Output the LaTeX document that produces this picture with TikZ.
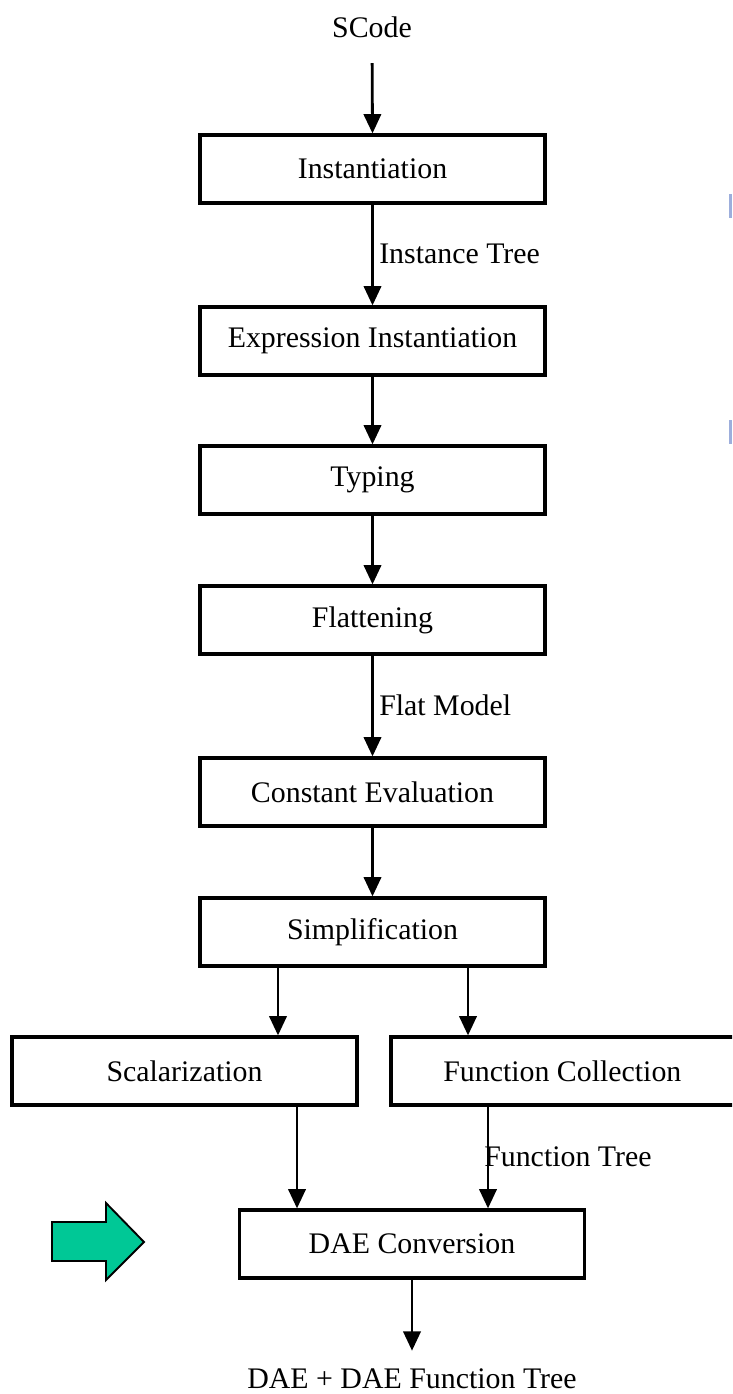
\documentclass[tikz,border=0pt]{standalone}
\usepackage{fontspec}
\setmainfont{Liberation Serif}
\usetikzlibrary{arrows.meta,calc}

\definecolor{stagegreen}{HTML}{00C896}
\definecolor{markblue}{HTML}{9DAEDC}

\tikzset{
  stage/.style={draw, line width=2.4pt, fill=white, minimum width=258.75pt,
                minimum height=51pt, inner sep=0pt, font=\fontsize{22.4}{26}\selectfont},
  plain/.style={inner sep=0pt, font=\fontsize{22.4}{26}\selectfont},
  flowlabel/.style={plain, anchor=west},
  flow/.style={line width=2.1pt, -{Triangle[length=14.5pt,width=13pt]}},
}

\begin{document}
\begin{tikzpicture}[x=0.75pt,y=-0.75pt]
  \useasboundingbox (0,0) rectangle (732,1394);
  \clip (0,0) rectangle (732,1394);

  % pipeline stages
  \node[plain] (scode) at (372,27) {SCode};
  \node[stage] (inst) at (372.5,169) {Instantiation};
  \node[stage] (expr) at (372.5,341) {Expression Instantiation};
  \node[stage] (typing) at (372.5,480) {Typing};
  \node[stage] (flat) at (372.5,620) {Flattening};
  \node[stage] (const) at (372.5,792) {Constant Evaluation};
  \node[stage] (simp) at (372.5,932) {Simplification};
  \node[stage] (scal) at (184.5,1071) {Scalarization};
  \node[stage, minimum width=258pt] (func) at (563,1071) {\hspace*{-1pt}Function Collection};
  \node[stage] (dae) at (412,1244) {DAE Conversion};
  \node[plain] (out) at (412,1379) {DAE + DAE Function Tree};

  % edge labels
  \node[flowlabel] (lblinst) at (379,254) {Instance Tree};
  \node[flowlabel] (lblflat) at (379,705) {Flat Model};
  \node[flowlabel] (lblfunc) at (484,1157) {Function Tree};

  % branch columns
  \coordinate (c1) at (278,0);
  \coordinate (c2) at (468,0);
  \coordinate (c3) at (297,0);
  \coordinate (c4) at (488,0);

  % connectors
  \draw[flow, shorten <=19pt] (scode.south) -- (inst.north);
  \draw[flow] (inst) -- (expr);
  \draw[flow] (expr) -- (typing);
  \draw[flow] (typing) -- (flat);
  \draw[flow] (flat) -- (const);
  \draw[flow] (const) -- (simp);
  \draw[flow] (simp.south -| c1) -- (scal.north -| c1);
  \draw[flow] (simp.south -| c2) -- (func.north -| c2);
  \draw[flow] (scal.south -| c3) -- (dae.north -| c3);
  \draw[flow] (func.south -| c4) -- (dae.north -| c4);
  \draw[flow, shorten >=13.5pt] (dae.south) -- (out.north);

  % highlight arrow
  \draw[fill=stagegreen, line width=1.4pt, line join=miter]
    (52,1222) -- (106,1222) -- (106,1203) -- (144,1242) -- (106,1280)
    -- (106,1261) -- (52,1261) -- cycle;

  % side markers
  \fill[markblue] (729,194) rectangle (732,218);
  \fill[markblue] (729,420) rectangle (732,444);
\end{tikzpicture}
\end{document}
